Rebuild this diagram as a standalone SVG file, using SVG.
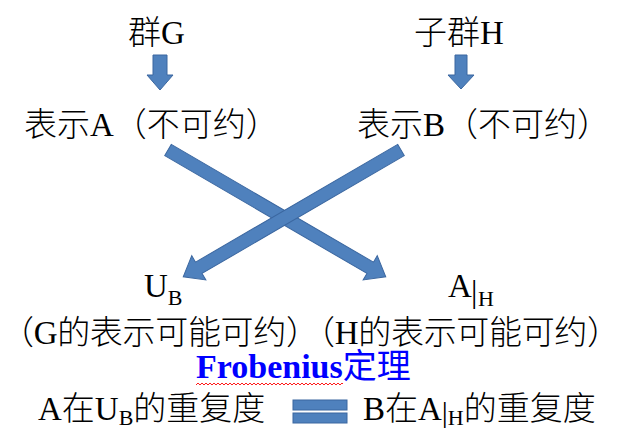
<svg xmlns="http://www.w3.org/2000/svg" width="621" height="430" viewBox="0 0 621 430">
<style>
.t{font-family:"Liberation Serif","Noto Sans CJK SC",serif;font-size:33px;font-weight:300;fill:#000}
.s{font-size:22px}
.b{font-family:"Liberation Serif","Noto Sans CJK SC",serif;font-size:34px;font-weight:bold;fill:#0000FF}
.ar{fill:#4F81BD;stroke:#3B67A0;stroke-width:1}
</style>
<defs>
<pattern id="wave" x="196" y="382" width="4" height="4" patternUnits="userSpaceOnUse">
<polyline points="0,3 2,1 4,3" fill="none" stroke="#FF0000" stroke-width="0.9"/>
</pattern>
</defs>
<rect width="621" height="430" fill="#fff"/>
<g id="connectors">
<path class="ar" d="M153,55 H167 V75 H173 L160,90 L147,75 H153 Z"/>
<path class="ar" d="M455,55 H467 V75 H474 L461,89 L448,75 H455 Z"/>
<path class="ar" transform="translate(168,150) rotate(30.22)" d="M0,-6.5 L234,-6.5 L234,-14 L252,0 L234,14 L234,6.5 L0,6.5 Z"/>
<path class="ar" transform="translate(401,150) rotate(149.78)" d="M0,-6.5 L234,-6.5 L234,-14 L252,0 L234,14 L234,6.5 L0,6.5 Z"/>
</g>
<g id="groupG"><text class="t" x="128" y="44">群G</text></g>
<g id="subgroupH"><text class="t" x="414" y="44">子群H</text></g>
<g id="repA"><text class="t" x="24" y="136">表示A（不可约）</text></g>
<g id="repB"><text class="t" x="357" y="136">表示B（不可约）</text></g>
<g id="UB"><text class="t" x="144" y="297">U<tspan class="s" dy="8">B</tspan></text></g>
<g id="AH"><text class="t" x="448" y="297">A<tspan x="471" y="302" font-size="32">|</tspan><tspan class="s" x="478" y="306">H</tspan></text></g>
<g id="reducible"><text class="t" x="1" y="344" textLength="619" lengthAdjust="spacing">（G的表示可能可约）（H的表示可能可约）</text></g>
<g id="frobenius">
<text class="b" x="196" y="378">Frobenius<tspan font-weight="normal">定理</tspan></text>
<rect x="196" y="382" width="147" height="4" fill="url(#wave)"/>
</g>
<g id="multA"><text class="t" x="38" y="420">A在U<tspan class="s" font-size="20" dy="5">B</tspan><tspan dy="-5">的重复度</tspan></text></g>
<g id="equals">
<rect class="ar" x="293" y="400" width="54" height="10"/>
<rect class="ar" x="293" y="413" width="54" height="10"/>
</g>
<g id="multB"><text class="t" x="363" y="420">B在A<tspan font-size="30" dy="2">|</tspan><tspan class="s" font-size="20" dy="3">H</tspan><tspan dy="-5">的重复度</tspan></text></g>
</svg>
